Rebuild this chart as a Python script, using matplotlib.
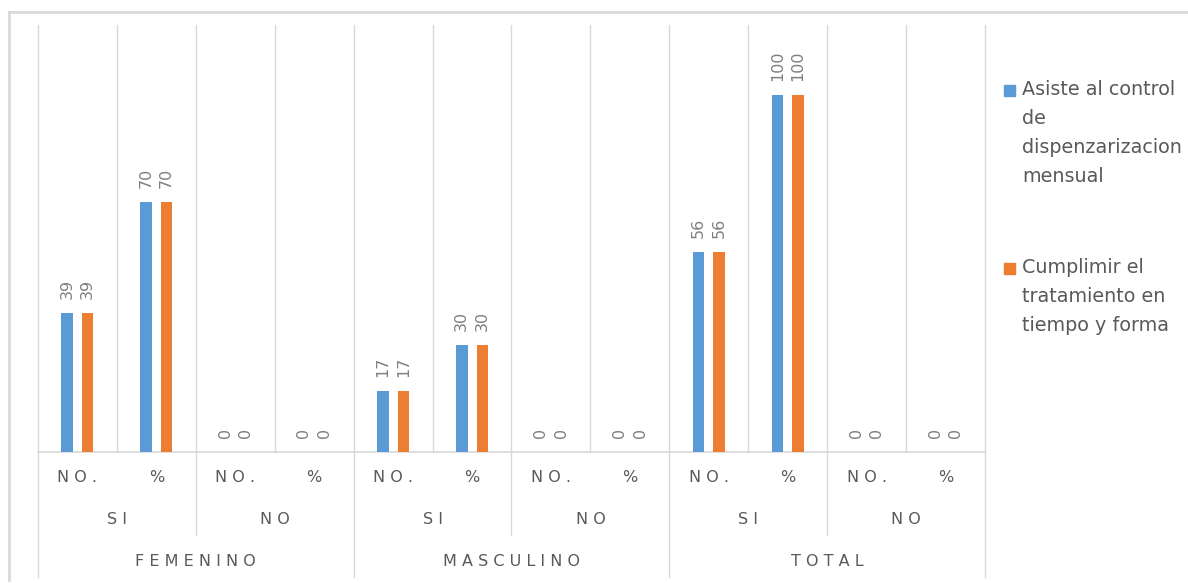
import numpy as np
import matplotlib
matplotlib.use('Agg')
import matplotlib.pyplot as plt
from matplotlib.patches import Rectangle
from matplotlib.lines import Line2D
import matplotlib.transforms as mtransforms

# Datos
nivel1 = ['NO.', '%', 'NO.', '%', 'NO.', '%', 'NO.', '%', 'NO.', '%', 'NO.', '%']
nivel2 = ['SI', 'NO', 'SI', 'NO', 'SI', 'NO']
nivel3 = ['FEMENINO', 'MASCULINO', 'TOTAL']
asiste = [39, 70, 0, 0, 17, 30, 0, 0, 56, 100, 0, 0]
cumplir = [39, 70, 0, 0, 17, 30, 0, 0, 56, 100, 0, 0]
series_labels = ['Asiste al control\nde\ndispenzarizacion\nmensual',
                 'Cumplimir el\ntratamiento en\ntiempo y forma']

azul = '#5B9BD5'
naranja = '#ED7D31'
gris_linea = '#d9d9d9'
gris_texto = '#595959'

W, H = 1188, 583
def fy(py):
    return 1 - py / H

fig = plt.figure(figsize=(W / 100, H / 100), dpi=100)
ax = fig.add_axes([38 / W, fy(452), (985 - 38) / W, (452 - 25) / H])
trans = mtransforms.blended_transform_factory(ax.transData, fig.transFigure)

n = len(nivel1)
x = np.arange(n) + 0.5
ancho = 0.145
desp = 0.13

b1 = ax.bar(x - desp, asiste, ancho, color=azul, zorder=3)
b2 = ax.bar(x + desp, cumplir, ancho, color=naranja, zorder=3)

for barras, vals in [(b1, asiste), (b2, cumplir)]:
    for rect, v in zip(barras, vals):
        ax.annotate(str(v), (rect.get_x() + rect.get_width() / 2, rect.get_height()),
                    xytext=(0, 10), textcoords='offset points', rotation=90,
                    ha='center', va='bottom', fontsize=11.5, color='#7f7f7f')

# lineas verticales de la cuadricula
for b in range(n + 1):
    ax.axvline(b, color=gris_linea, lw=1, zorder=1, clip_on=False)
ax.axhline(0, color=gris_linea, lw=1.2, zorder=2, clip_on=False)

ax.set_xlim(0, n)
ax.set_ylim(0, 119.6)
ax.set_xticks([])
ax.set_yticks([])
for s in ax.spines.values():
    s.set_visible(False)

def espaciado(s):
    return ' '.join(s)

# etiquetas de varios niveles
for i, lab in enumerate(nivel1):
    ax.text(i + 0.5, fy(478), espaciado(lab), transform=trans, ha='center', va='center',
            fontsize=11.5, color=gris_texto)
for i, lab in enumerate(nivel2):
    ax.text(2 * i + 1, fy(520), espaciado(lab), transform=trans, ha='center', va='center',
            fontsize=11.5, color=gris_texto)
for i, lab in enumerate(nivel3):
    ax.text(4 * i + 2, fy(561), espaciado(lab), transform=trans, ha='center', va='center',
            fontsize=11.5, color=gris_texto)

for b in [2, 6, 10]:
    ax.plot([b, b], [fy(452), fy(535)], transform=trans, color=gris_linea, lw=1, clip_on=False)
for b in [0, 4, 8, 12]:
    ax.plot([b, b], [fy(452), fy(577)], transform=trans, color=gris_linea, lw=1, clip_on=False)

# borde exterior
fig.add_artist(Line2D([9 / W, 9 / W], [fy(12), fy(580)], transform=fig.transFigure,
                      color=gris_linea, lw=2))
fig.add_artist(Line2D([9 / W, 1], [fy(12), fy(12)], transform=fig.transFigure,
                      color=gris_linea, lw=2))

# leyenda
for col, lab, ytop in [(azul, series_labels[0], 85), (naranja, series_labels[1], 263)]:
    fig.add_artist(Rectangle((1004 / W, fy(ytop + 11)), 11 / W, 11 / H,
                             transform=fig.transFigure, color=col))
    fig.text(1022 / W, fy(ytop - 5), lab, ha='left', va='top', fontsize=13.8,
             color=gris_texto, linespacing=1.67)

fig.savefig('out.png', dpi=100)
